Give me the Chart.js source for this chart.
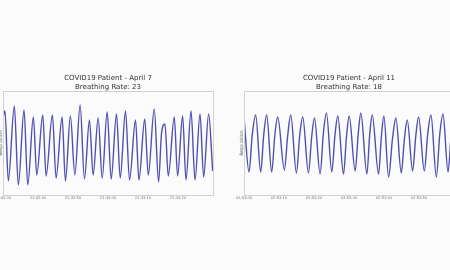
<!DOCTYPE html>
<html>
<head>
<meta charset="utf-8">
<script src="https://cdn.jsdelivr.net/npm/chart.js@4/dist/chart.umd.min.js"></script>
<style>
  html, body { margin: 0; padding: 0; background: #fbfbfb; }
  body { width: 450px; height: 270px; position: relative; overflow: hidden; }
  canvas { position: absolute; top: 0; }
  #left { left: -37px; }
  #right { left: 204px; }
</style>
</head>
<body>
<canvas id="left" width="260" height="270"></canvas>
<canvas id="right" width="260" height="270"></canvas>
<script>
// seconds since window start, respiration signal (arbitrary units)
const leftTitle = ["COVID19 Patient - April 7", "Breathing Rate: 23"];
const leftTicks = ["21:42:30", "21:42:40", "21:42:50", "21:43:00", "21:43:10", "21:43:20"];
const leftTime = [0.1, 0.57, 1.51, 3.23, 4.37, 6.0, 7.06, 8.66, 9.63, 11.34,
  12.29, 14.09, 15.14, 16.86, 17.8, 19.23, 20.49, 22.0, 23.23, 24.66,
  25.71, 27.14, 28.29, 29.71, 30.86, 32.37, 33.43, 34.94, 36.09, 37.8,
  38.77, 40.43, 41.43, 43.14, 44.37, 45.23, 46.2, 47.14, 48.86, 49.8,
  51.23, 52.2, 53.63, 54.77, 56.2, 57.23, 58.66, 59.8];
const leftResp = [79, 84, 14, 89, 10, 85, 10, 78, 20, 80,
  19, 80, 17, 78, 14, 79, 20, 90, 16, 75,
  20, 77, 17, 83, 16, 81, 17, 84, 15, 75,
  15, 76, 20, 86, 13, 62, 71, 19, 78, 19,
  79, 15, 84, 15, 81, 18, 81, 24];

const rightTitle = ["COVID19 Patient - April 11", "Breathing Rate: 18"];
const rightTicks = ["02:53:00", "02:53:10", "02:53:20", "02:53:30", "02:53:40", "02:53:50"];
const rightTime = [0.0, 1.43, 2.35, 3.33, 4.76, 5.65, 6.48, 7.9, 8.8, 9.62,
  11.52, 12.45, 13.33, 14.95, 15.9, 16.76, 18.38, 19.3, 20.1, 21.71,
  22.65, 23.52, 25.05, 25.95, 26.76, 28.38, 29.25, 30.0, 31.71, 32.6,
  33.33, 35.05, 35.85, 36.57, 38.38, 39.2, 39.9, 41.24, 42.35, 43.33,
  44.86, 45.75, 46.57, 48.1, 49.0, 49.81, 51.43, 52.4, 53.33, 54.86,
  55.85, 56.76, 58.2, 59.1, 60.1];
const rightResp = [78, 23, 60, 80, 23, 61, 80, 23, 60, 78,
  25, 59, 80, 22, 60, 78, 22, 58, 77, 21,
  62, 82, 23, 60, 79, 21, 59, 79, 24, 62,
  82, 21, 60, 80, 21, 59, 79, 18, 56, 77,
  22, 56, 75, 24, 59, 78, 24, 61, 80, 18,
  61, 81, 23, 60, 80];

const frame = {
  id: "frame",
  afterDatasetsDraw(chart) {
    const a = chart.chartArea, ctx = chart.ctx;
    ctx.save();
    ctx.strokeStyle = "#d2d2d2";
    ctx.lineWidth = 1;
    ctx.strokeRect(Math.round(a.left) + 0.5, Math.round(a.top) + 0.5,
      Math.round(a.right - a.left), Math.round(a.bottom - a.top));
    ctx.restore();
  }
};

function makeChart(id, title, ticks, times, resp) {
  return new Chart(document.getElementById(id), {
    type: "line",
    data: {
      datasets: [{
        data: times.map((t, i) => ({ x: t, y: resp[i] })),
        borderColor: "#5050b2",
        borderWidth: 1.4,
        pointRadius: 0,
        cubicInterpolationMode: "monotone",
        fill: false,
      }],
    },
    options: {
      responsive: false,
      animation: false,
      layout: { padding: { left: 35.3, right: 10, top: 74.2, bottom: 65 } },
      plugins: {
        legend: { display: false },
        tooltip: { enabled: false },
        title: {
          display: true,
          text: title,
          fullSize: false,
          color: "#333",
          font: { family: "DejaVu Sans", size: 7, weight: "normal", lineHeight: 1.2 },
          padding: { top: 0, bottom: 0 },
        },
      },
      scales: {
        x: {
          type: "linear",
          min: 0,
          max: 59.9,
          grid: { display: false, drawTicks: false },
          border: { display: false },
          afterFit: (s) => { s.height = 10; },
          ticks: {
            stepSize: 10,
            includeBounds: false,
            autoSkip: false,
            maxRotation: 0,
            padding: 1,
            color: "#777",
            font: { family: "DejaVu Sans", size: 3.7 },
            callback: (v) => ticks[Math.round(v / 10)] ?? "",
          },
        },
        y: {
          min: 0,
          max: 104,
          grid: { display: false, drawTicks: false },
          border: { display: false },
          ticks: { display: false },
          afterFit: (s) => { s.width = 4.7; },
          title: {
            display: true,
            text: "Respiration",
            color: "#555",
            font: { family: "DejaVu Sans", size: 4.5, lineHeight: 1.2 },
            padding: { top: 0, bottom: 0 },
          },
        },
      },
    },
    plugins: [frame],
  });
}

makeChart("left", leftTitle, leftTicks, leftTime, leftResp);
makeChart("right", rightTitle, rightTicks, rightTime, rightResp);
</script>
</body>
</html>
